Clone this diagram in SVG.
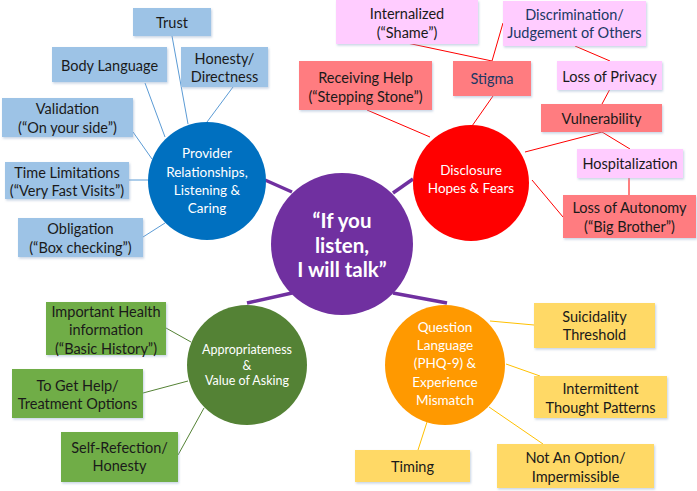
<svg xmlns="http://www.w3.org/2000/svg" width="697" height="491" viewBox="0 0 697 491">
<style>
text{font-family:Lato,"Open Sans","Liberation Sans",sans-serif;text-anchor:middle;dominant-baseline:central}
.bt{font-size:14.5px;fill:#1a1a1a}
.ct{font-size:13.5px;fill:#fff}
.big{font-size:20.5px;font-weight:bold;fill:#fff}
.dk{fill:#203864}
.blue{fill:#9DC3E6}
.red{fill:#FF7C80}
.pink{fill:#FFCCFF}
.green{fill:#70AD47}
.yel{fill:#FFD966}
.box{filter:url(#sh)}
.lb{stroke:#5B9BD5;stroke-width:1}
.lr{stroke:#FF0000;stroke-width:1}
.lg{stroke:#548235;stroke-width:1}
.lo{stroke:#FFC000;stroke-width:1}
.lp{stroke:#7030A0;stroke-width:3.5}
</style>
<defs>
<filter id="sh" x="-10%" y="-10%" width="125%" height="140%">
<feDropShadow dx="1" dy="1.5" stdDeviation="1" flood-color="#8fa8c8" flood-opacity="0.5"/>
</filter>
</defs>
<rect width="697" height="491" fill="#fff"/>
<g id="connectors" fill="none">
<line class="lp" x1="265" y1="180" x2="292" y2="192"/>
<line class="lp" x1="393" y1="193" x2="413" y2="179"/>
<line class="lp" x1="292" y1="293" x2="247" y2="303"/>
<line class="lp" x1="393" y1="293" x2="447" y2="303"/>
<line class="lb" x1="172" y1="36" x2="188" y2="124"/>
<line class="lb" x1="145" y1="83" x2="165" y2="137"/>
<line class="lb" x1="233" y1="87" x2="207" y2="122"/>
<line class="lb" x1="133" y1="132" x2="152" y2="159"/>
<line class="lb" x1="129" y1="180" x2="149" y2="180"/>
<line class="lb" x1="143" y1="237" x2="165" y2="223"/>
<line class="lr" x1="407" y1="43" x2="492" y2="61"/>
<line class="lr" x1="503" y1="23" x2="492" y2="61"/>
<line class="lr" x1="493" y1="96" x2="472" y2="126"/>
<line class="lr" x1="367" y1="110" x2="430" y2="137"/>
<line class="lr" x1="575" y1="46" x2="610" y2="61"/>
<line class="lr" x1="610" y1="89" x2="602" y2="104"/>
<line class="lr" x1="602" y1="132" x2="525" y2="152"/>
<line class="lr" x1="602" y1="132" x2="630" y2="149"/>
<line class="lr" x1="629" y1="178" x2="629" y2="195"/>
<line class="lr" x1="563" y1="217" x2="532" y2="180"/>
<line class="lg" x1="166" y1="328" x2="191" y2="342"/>
<line class="lg" x1="143" y1="393" x2="188" y2="381"/>
<line class="lg" x1="178" y1="455" x2="204" y2="408"/>
<line class="lo" x1="490" y1="321" x2="534" y2="325"/>
<line class="lo" x1="506" y1="364" x2="540" y2="376"/>
<line class="lo" x1="489" y1="407" x2="543" y2="444"/>
<line class="lo" x1="427" y1="422" x2="418" y2="450"/>
</g>
<g id="center">
<circle cx="342" cy="244" r="71" fill="#7030A0"/>
<text class="big" x="342" y="220">“If you</text>
<text class="big" x="342" y="245">listen,</text>
<text class="big" x="342" y="269">I will talk”</text>
</g>
<g id="provider">
<circle cx="207" cy="181" r="59" fill="#0070C0"/>
<text class="ct" x="207" y="153">Provider</text>
<text class="ct" x="207" y="172">Relationships,</text>
<text class="ct" x="207" y="190">Listening &amp;</text>
<text class="ct" x="207" y="208">Caring</text>
</g>
<g id="trust"><rect class="blue box" x="133" y="8" width="78" height="28"/><text class="bt" x="172" y="22">Trust</text></g>
<g id="body-language"><rect class="blue box" x="52" y="47" width="115" height="35"/><text class="bt" x="109.5" y="65">Body Language</text></g>
<g id="honesty"><rect class="blue box" x="181" y="47" width="87" height="40"/><text class="bt" x="224.5" y="58">Honesty/</text><text class="bt" x="224.5" y="76">Directness</text></g>
<g id="validation"><rect class="blue box" x="2" y="98" width="131" height="39"/><text class="bt" x="67.5" y="108">Validation</text><text class="bt" x="67.5" y="127">(“On your side”)</text></g>
<g id="time"><rect class="blue box" x="5" y="162" width="124" height="37"/><text class="bt" x="67" y="172">Time Limitations</text><text class="bt" x="67" y="190">(“Very Fast Visits”)</text></g>
<g id="obligation"><rect class="blue box" x="18" y="218" width="125" height="39"/><text class="bt" x="80.5" y="228">Obligation</text><text class="bt" x="80.5" y="247">(“Box checking”)</text></g>
<g id="disclosure">
<circle cx="471" cy="183" r="58" fill="#FF0000"/>
<text class="ct" x="471" y="170">Disclosure</text>
<text class="ct" x="471" y="188">Hopes &amp; Fears</text>
</g>
<g id="receiving"><rect class="red box" x="299" y="61" width="133" height="49"/><text class="bt" x="365.5" y="77">Receiving Help</text><text class="bt" x="365.5" y="96">(“Stepping Stone”)</text></g>
<g id="stigma"><rect class="red box" x="453" y="61" width="78" height="35"/><text class="bt dk" x="492" y="78">Stigma</text></g>
<g id="internalized"><rect class="pink box" x="336" y="0" width="142" height="44"/><text class="bt" x="407" y="13">Internalized</text><text class="bt" x="407" y="32">(“Shame”)</text></g>
<g id="discrimination"><rect class="pink box" x="503" y="1" width="143" height="45"/><text class="bt dk" x="574.5" y="14">Discrimination/</text><text class="bt dk" x="574.5" y="32">Judgement of Others</text></g>
<g id="privacy"><rect class="pink box" x="557" y="61" width="105" height="29"/><text class="bt" x="609.5" y="76">Loss of Privacy</text></g>
<g id="vulnerability"><rect class="red box" x="541" y="104" width="121" height="28"/><text class="bt" x="601.5" y="118">Vulnerability</text></g>
<g id="hospitalization"><rect class="pink box" x="577" y="149" width="106" height="29"/><text class="bt" x="630" y="163">Hospitalization</text></g>
<g id="autonomy"><rect class="red box" x="563" y="195" width="133" height="43"/><text class="bt" x="629.5" y="207">Loss of Autonomy</text><text class="bt" x="629.5" y="226">(“Big Brother”)</text></g>
<g id="appropriateness">
<circle cx="247" cy="365" r="60" fill="#548235"/>
<text class="ct" x="247" y="349" style="font-size:12.5px">Appropriateness</text>
<text class="ct" x="247" y="365" style="font-size:12.5px">&amp;</text>
<text class="ct" x="247" y="380" style="font-size:12.5px">Value of Asking</text>
</g>
<g id="health"><rect class="green box" x="46" y="302" width="120" height="53"/><text class="bt" x="106" y="311">Important Health</text><text class="bt" x="106" y="329">information</text><text class="bt" x="106" y="348">(“Basic History”)</text></g>
<g id="get-help"><rect class="green box" x="12" y="369" width="131" height="49"/><text class="bt" x="77.5" y="385">To Get Help/</text><text class="bt" x="77.5" y="403">Treatment Options</text></g>
<g id="self"><rect class="green box" x="61" y="432" width="117" height="50"/><text class="bt" x="119.5" y="447">Self-Refection/</text><text class="bt" x="119.5" y="465">Honesty</text></g>
<g id="question">
<circle cx="445" cy="365" r="60" fill="#FF9900"/>
<text class="ct" x="445" y="327">Question</text>
<text class="ct" x="445" y="345">Language</text>
<text class="ct" x="445" y="363">(PHQ-9) &amp;</text>
<text class="ct" x="445" y="382">Experience</text>
<text class="ct" x="445" y="400">Mismatch</text>
</g>
<g id="suicidality"><rect class="yel box" x="534" y="303" width="121" height="45"/><text class="bt" x="594.5" y="316">Suicidality</text><text class="bt" x="594.5" y="334">Threshold</text></g>
<g id="intermittent"><rect class="yel box" x="534" y="376" width="133" height="42"/><text class="bt" x="600.5" y="388">Intermittent</text><text class="bt" x="600.5" y="407">Thought Patterns</text></g>
<g id="timing"><rect class="yel box" x="355" y="450" width="115" height="32"/><text class="bt" x="412.5" y="466">Timing</text></g>
<g id="not-option"><rect class="yel box" x="497" y="444" width="157" height="44"/><text class="bt" x="575.5" y="457">Not An Option/</text><text class="bt" x="575.5" y="476">Impermissible</text></g>
</svg>
